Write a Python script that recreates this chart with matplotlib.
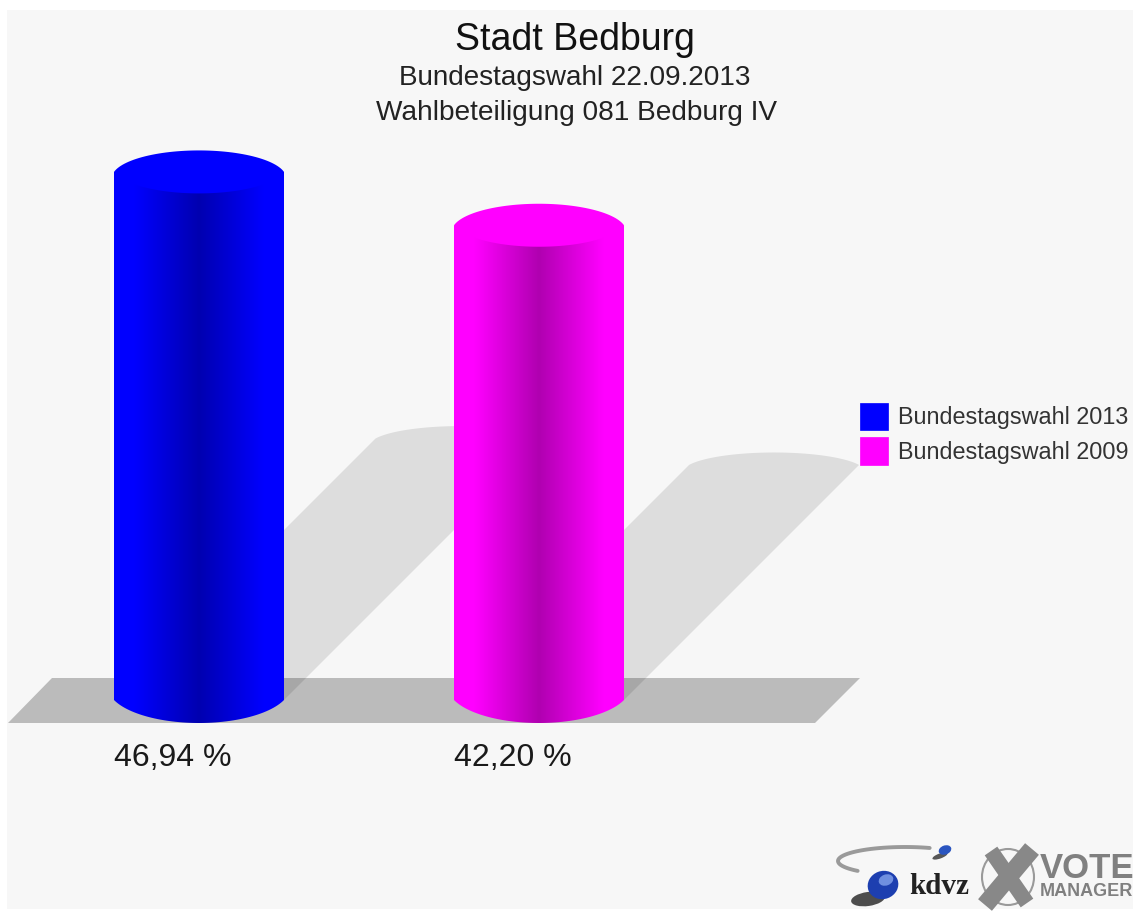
import matplotlib
matplotlib.use('Agg')
import matplotlib.pyplot as plt
import numpy as np
from matplotlib.patches import Ellipse, Patch, Polygon, Rectangle

plt.rcParams['font.family'] = ['Liberation Sans', 'DejaVu Sans']

# values
categories = ['Bundestagswahl 2013', 'Bundestagswahl 2009']
turnout = [46.94, 42.20]
value_labels = ['46,94 %', '42,20 %']
bar_colors = ['#0000ff', '#ff00ff']

title = 'Stadt Bedburg'
subtitle_1 = 'Bundestagswahl 22.09.2013'
subtitle_2 = 'Wahlbeteiligung 081 Bedburg IV'

W, H = 1133, 911
PX_X = 340.0   # pixels per category
PX_Y = 11.25   # pixels per percent
X0, Y0 = 199.0, 700.0   # pixel position of category 0, value 0
HALF_W = 85 / PX_X
CAP_H = 21.5 / PX_Y
SHADOW = 5.57   # shadow offset in pixels per percent

fig = plt.figure(figsize=(W / 100, H / 100), dpi=100, facecolor='white')

# overlay in pixel coordinates for panel, floor and logo
bg = fig.add_axes([0, 0, 1, 1], zorder=0)
bg.set_xlim(0, W)
bg.set_ylim(H, 0)
bg.axis('off')
bg.add_patch(Rectangle((7, 10), W - 7, 899, fc='#f7f7f7', ec='none'))
bg.add_patch(Polygon([(8, 723), (52, 678), (860, 678), (815, 723)], fc='#bbbbbb', ec='none'))

ax = fig.add_axes([0, 0, 1, 1], zorder=1)
ax.patch.set_alpha(0)
xlim = (-X0 / PX_X, (W - X0) / PX_X)
ylim = ((Y0 - H) / PX_Y, Y0 / PX_Y)
ax.axis('off')


def bulge(cx, cy, b, steep=1.2):
    # shallow arc from left corner to right corner, rises by b at the middle
    t = np.linspace(-steep, steep, 60)
    x = cx + HALF_W * np.sin(t) / np.sin(steep)
    y = cy + b * (np.cos(t) - np.cos(steep)) / (1 - np.cos(steep))
    return np.column_stack([x, y])


# shadows lie at 45 degrees behind each cylinder
for i, v in enumerate(turnout):
    dx = v * SHADOW / PX_X
    dy = v * SHADOW / PX_Y
    pts = np.vstack([[(i - HALF_W, 0)], bulge(i + dx, dy, CAP_H * 0.58), [(i + HALF_W, 0)]])
    ax.add_patch(Polygon(pts, fc='black', ec='none', alpha=0.1, zorder=2))

# shading across the cylinder body
shade_x = np.linspace(0, 1, 256)
shade = np.interp(shade_x, [0, 0.12, 0.5, 0.88, 1], [1, 1, 0.69, 1, 1])

for i, (v, c) in enumerate(zip(turnout, bar_colors)):
    rgb = np.array(matplotlib.colors.to_rgb(c))
    img = shade[None, :, None] * rgb[None, None, :]
    body = np.vstack([bulge(i, 0, -CAP_H * 1.07), [(i + HALF_W, v), (i - HALF_W, v)]])
    im = ax.imshow(img, extent=(i - HALF_W, i + HALF_W, -CAP_H * 1.1, v), aspect='auto', zorder=3)
    clip = Polygon(body, transform=ax.transData, fc='none', ec='none')
    ax.add_patch(clip)
    im.set_clip_path(clip)
    cap = np.vstack([bulge(i, v, CAP_H, 1.35), bulge(i, v, -CAP_H, 1.35)[::-1]])
    ax.add_patch(Polygon(cap, fc=c, ec='none', zorder=4))

ax.set_xlim(xlim)
ax.set_ylim(ylim)

for i, label in enumerate(value_labels):
    ax.text(i - HALF_W + 0.001, (Y0 - 766) / PX_Y, label, fontsize=23, color='#1a1a1a',
            ha='left', va='baseline', zorder=5)

# titles
top = fig.add_axes([0, 0, 1, 1], zorder=2)
top.patch.set_alpha(0)
top.set_xlim(0, W)
top.set_ylim(H, 0)
top.axis('off')
top.text(575, 50, title, fontsize=27, color='#111111', ha='center', va='baseline')
top.text(575, 85, subtitle_1, fontsize=20.1, color='#222222', ha='center', va='baseline')
top.text(576, 120, subtitle_2, fontsize=20.2, color='#222222', ha='center', va='baseline')

# legend
handles = [Patch(fc=c, ec=c, lw=0.5) for c in bar_colors]
top.legend(handles, categories, loc='upper left', bbox_to_anchor=(860 / W, 1 - 403 / H),
           frameon=False, fontsize=16.8, handlelength=1.2, handleheight=1.43, handletextpad=0.42,
           labelspacing=0.3, borderpad=0, borderaxespad=0, labelcolor='#333333')

# logo: kdvz
theta = np.linspace(0.38 * np.pi, 1.25 * np.pi, 40)
arc_x = 905 + 67 * np.cos(theta)
arc_y = 861 - 14 * np.sin(theta)
top.plot(arc_x, arc_y, color='#9a9a9a', lw=2.8, solid_capstyle='round')
top.add_patch(Ellipse((940, 856), 16, 5, angle=-20, fc='#222222', ec='none', alpha=0.75))
top.add_patch(Ellipse((945, 850), 13, 9, angle=-20, fc='#2a55c0', ec='none'))
top.add_patch(Ellipse((868, 899), 34, 14, angle=-8, fc='#222222', ec='none', alpha=0.8))
top.add_patch(Ellipse((883, 885), 31, 28, angle=-20, fc='#1d3fb0', ec='none'))
top.add_patch(Ellipse((886, 880), 15, 11, angle=-20, fc='#6f8fe0', ec='none'))
top.text(939, 887, 'kdvz', fontsize=21, fontweight='bold', family='Liberation Serif', color='#222222',
         ha='center', va='center')

# logo: Vote Manager
top.add_patch(Ellipse((1008, 877), 52, 56, fc='none', ec='#9a9a9a', lw=1.5))
top.plot([991, 1027], [851, 903], color='#888888', lw=11, solid_capstyle='butt')
top.plot([1032, 985], [849, 905], color='#888888', lw=13, solid_capstyle='butt')
top.text(1040, 869, 'VOTE', fontsize=25, fontweight='bold', color='#808080', ha='left', va='center')
top.text(1040, 892, 'MANAGER', fontsize=13, fontweight='bold', color='#808080', ha='left', va='center')

fig.savefig('out.png', dpi=100, facecolor='white')
